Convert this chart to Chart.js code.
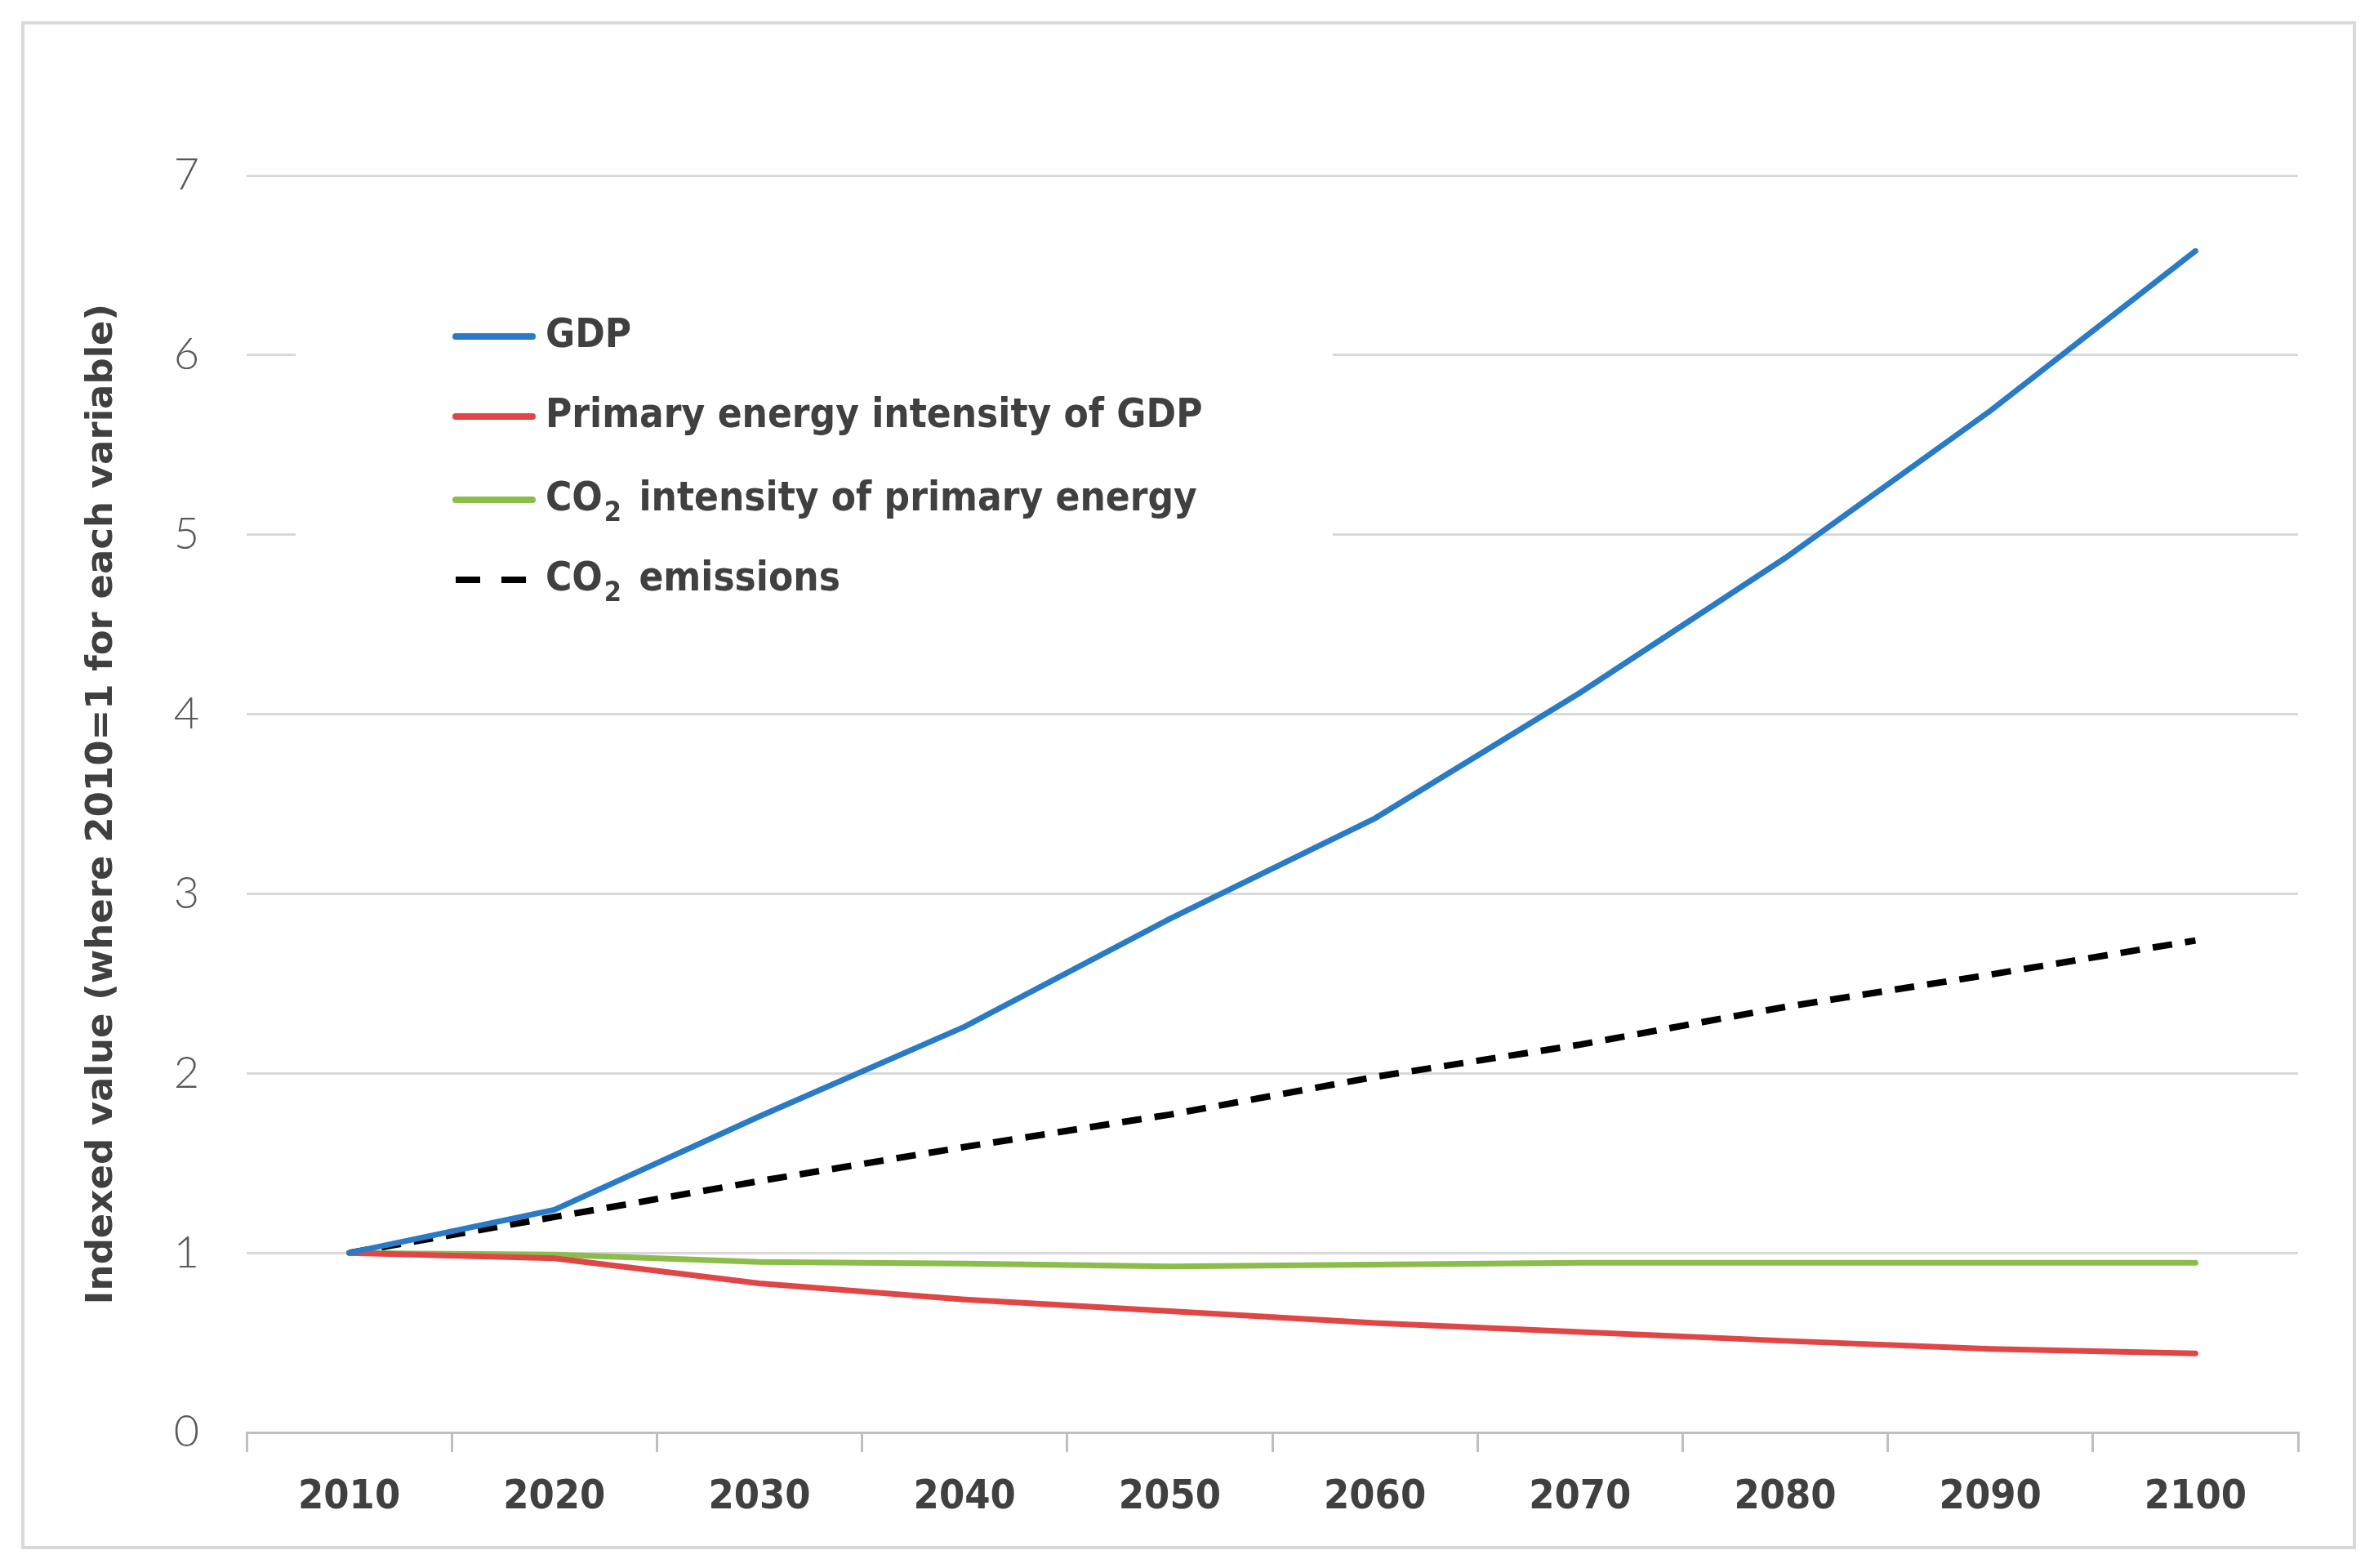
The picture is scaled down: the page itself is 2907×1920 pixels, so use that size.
<!DOCTYPE html>
<html>
<head>
<meta charset="utf-8">
<script src="https://cdn.jsdelivr.net/npm/chart.js@4.4.1/dist/chart.umd.min.js"></script>
<style>
  html, body { margin: 0; padding: 0; background: #fff; }
  #wrap { width: 2907px; height: 1920px; position: relative; }
</style>
</head>
<body>
<div id="wrap"><canvas id="chart" width="2907" height="1920"></canvas></div>
<script>
const years = ['2010', '2020', '2030', '2040', '2050', '2060', '2070', '2080', '2090', '2100'];
const gdp = [1.0, 1.24, 1.76, 2.26, 2.86, 3.42, 4.12, 4.87, 5.69, 6.58];
const energyIntensity = [1.0, 0.97, 0.83, 0.74, 0.675, 0.61, 0.56, 0.51, 0.465, 0.44];
const co2Intensity = [1.0, 0.99, 0.95, 0.94, 0.925, 0.935, 0.945, 0.945, 0.945, 0.945];
const co2Emissions = [1.0, 1.20, 1.40, 1.59, 1.77, 1.98, 2.16, 2.37, 2.55, 2.74];
const seriesNames = ['GDP', 'Primary energy intensity of GDP', 'CO₂ intensity of primary energy', 'CO₂ emissions'];
const yTicks = [0, 1, 2, 3, 4, 5, 6, 7];

const txt = '#404040';
const colors = ['#2a7bc6', '#e04646', '#8bbd4b', '#000000'];

// frame round the whole chart
const framePlugin = {
  id: 'frame',
  beforeDraw(chart) {
    const ctx = chart.ctx;
    ctx.save();
    ctx.fillStyle = '#fff';
    ctx.fillRect(0, 0, chart.width, chart.height);
    ctx.strokeStyle = '#d9d9d9';
    ctx.lineWidth = 4;
    ctx.strokeRect(28, 28, 2855, 1867);
    ctx.restore();
  }
};

// legend drawn inside the plot, on a white box over the gridlines
const insideLegend = {
  id: 'insideLegend',
  afterDraw(chart) {
    const ctx = chart.ctx;
    ctx.save();
    ctx.fillStyle = '#fff';
    ctx.fillRect(362, 352, 1270, 400);
    const rows = [412, 510, 612, 710];
    const font = 'bold 49px "DejaVu Sans Condensed", "DejaVu Sans", sans-serif';
    const subFont = 'bold 34px "DejaVu Sans Condensed", "DejaVu Sans", sans-serif';
    chart.data.datasets.forEach((ds, i) => {
      const y = rows[i];
      const dashed = ds.borderDash && ds.borderDash.length;
      ctx.beginPath();
      ctx.strokeStyle = ds.borderColor;
      ctx.lineWidth = 8;
      ctx.setLineDash(dashed ? [30, 26] : []);
      ctx.lineCap = dashed ? 'butt' : 'round';
      ctx.moveTo(558, y);
      ctx.lineTo(652, y);
      ctx.stroke();
      ctx.setLineDash([]);
      ctx.fillStyle = txt;
      ctx.textBaseline = 'middle';
      let x = 668;
      const parts = ds.label.split('₂');
      parts.forEach((p, k) => {
        ctx.font = font;
        ctx.fillText(p, x, y);
        x += ctx.measureText(p).width;
        if (k < parts.length - 1) {
          ctx.font = subFont;
          ctx.fillText('2', x + 2, y + 17);
          x += ctx.measureText('2').width + 8;
        }
      });
    });
    ctx.restore();
  }
};

const series = [gdp, energyIntensity, co2Intensity, co2Emissions];

new Chart(document.getElementById('chart'), {
  type: 'line',
  data: {
    labels: years,
    datasets: series.map((d, i) => ({
      label: seriesNames[i],
      data: d,
      borderColor: colors[i],
      backgroundColor: colors[i],
      borderWidth: i === 3 ? 8 : 7,
      borderDash: i === 3 ? [24, 16] : [],
      borderCapStyle: i === 3 ? 'butt' : 'round',
      pointRadius: 0,
      tension: 0,
      fill: false
    }))
  },
  options: {
    responsive: false,
    animation: false,
    devicePixelRatio: 1,
    layout: { padding: { left: 0, top: 215, right: 93, bottom: 0 } },
    plugins: {
      legend: { display: false },
      title: { display: false },
      tooltip: { enabled: false }
    },
    scales: {
      x: {
        offset: true,
        grid: {
          offset: true,
          drawOnChartArea: false,
          drawTicks: true,
          tickLength: 24,
          color: '#bfbfbf',
          lineWidth: 3
        },
        border: { display: true, color: '#bfbfbf', width: 3 },
        ticks: {
          color: txt,
          padding: 26,
          font: { family: '"DejaVu Sans Condensed", "DejaVu Sans", sans-serif', weight: 'bold', size: 50 }
        },
        afterFit(scale) { scale.height = 166; }
      },
      y: {
        min: 0,
        max: 7,
        afterBuildTicks(scale) { scale.ticks = yTicks.map(v => ({ value: v })); },
        grid: { color: '#d9d9d9', lineWidth: 3, drawTicks: false },
        border: { display: false },
        ticks: {
          color: '#595959',
          padding: 58,
          font: { family: 'Lato, "DejaVu Sans", sans-serif', weight: 300, size: 54 }
        },
        title: {
          display: true,
          text: 'Indexed value (where 2010=1 for each variable)',
          color: txt,
          padding: { top: 98, bottom: 0 },
          font: { family: '"DejaVu Sans", sans-serif', weight: 'bold', size: 45 }
        },
        afterFit(scale) { scale.width = 302; }
      }
    }
  },
  plugins: [framePlugin, insideLegend]
});
</script>
</body>
</html>
